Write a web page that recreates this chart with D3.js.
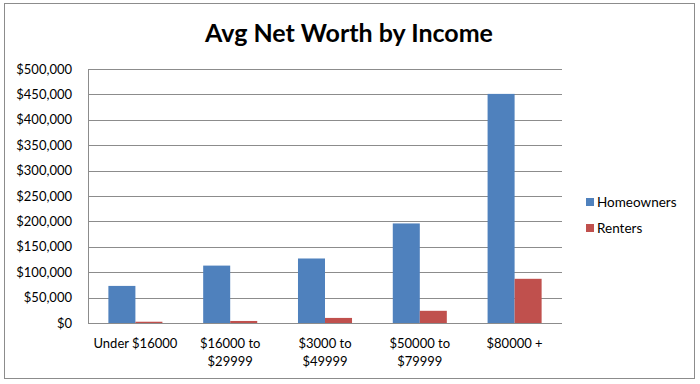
<!DOCTYPE html>
<html>
<head>
<meta charset="utf-8">
<script src="https://cdn.jsdelivr.net/npm/d3@7"></script>
<style>
  body { margin: 0; background: #fff; }
  text { font-family: Lato, "Open Sans", sans-serif; fill: #000; }
</style>
</head>
<body>
<div id="chart"></div>
<script>
// data
const categories = ["Under $16000", "$16000 to $29999", "$3000 to $49999", "$50000 to $79999", "$80000 +"];
const seriesNames = ["Homeowners", "Renters"];
const homeowners = [73000, 113000, 127000, 196000, 451000];
const renters = [2500, 4000, 10000, 24000, 87000];
const yTicks = [0, 50000, 100000, 150000, 200000, 250000, 300000, 350000, 400000, 450000, 500000];
const colors = ["#4F81BD", "#C0504D"];

const width = 700, height = 384;
const plot = { left: 88, right: 562, top: 69, bottom: 323 };

const svg = d3.select("#chart").append("svg")
  .attr("width", width)
  .attr("height", height);

// outer frame
svg.append("rect")
  .attr("x", 4.5).attr("y", 3.5)
  .attr("width", 690).attr("height", 375)
  .attr("fill", "#fff")
  .attr("stroke", "#8c8c8c");

svg.append("text")
  .attr("x", 349).attr("y", 42)
  .attr("text-anchor", "middle")
  .style("font-size", "25px")
  .style("font-weight", "bold")
  .text("Avg Net Worth by Income");

const y = d3.scaleLinear().domain([0, 500000]).range([plot.bottom, plot.top]);

const x0 = d3.scaleBand()
  .domain(categories)
  .range([plot.left, plot.right])
  .paddingInner(0.43)
  .paddingOuter(0.215);

const x1 = d3.scaleBand()
  .domain(seriesNames)
  .range([0, x0.bandwidth()]);

// gridlines
svg.append("g")
  .selectAll("line")
  .data(yTicks)
  .join("line")
  .attr("x1", plot.left).attr("x2", plot.right)
  .attr("y1", d => Math.round(y(d)) + 0.5)
  .attr("y2", d => Math.round(y(d)) + 0.5)
  .attr("stroke", "#8c8c8c");

// y axis labels
const fmt = d3.format("$,");
svg.append("g")
  .selectAll("text")
  .data(yTicks)
  .join("text")
  .attr("x", 72)
  .attr("y", d => y(d))
  .attr("dy", "0.35em")
  .attr("text-anchor", "end")
  .style("font-size", "13px")
  .text(d => fmt(d));

// vertical axis line
svg.append("line")
  .attr("x1", plot.left + 0.5).attr("x2", plot.left + 0.5)
  .attr("y1", plot.top).attr("y2", plot.bottom)
  .attr("stroke", "#8c8c8c");

// bars
const rows = categories.map((c, i) => ({ cat: c, values: [homeowners[i], renters[i]] }));

svg.append("g")
  .selectAll("g")
  .data(rows)
  .join("g")
  .attr("transform", d => `translate(${x0(d.cat)},0)`)
  .selectAll("rect")
  .data(d => d.values.map((v, j) => ({ name: seriesNames[j], value: v, j })))
  .join("rect")
  .attr("x", d => x1(d.name))
  .attr("y", d => y(d.value))
  .attr("width", x1.bandwidth())
  .attr("height", d => y(0) - y(d.value))
  .attr("fill", d => colors[d.j]);

// x labels (wrap after "to")
const xl = svg.append("g")
  .selectAll("text")
  .data(categories)
  .join("text")
  .attr("x", d => x0(d) + x0.bandwidth() / 2)
  .attr("y", 348)
  .attr("text-anchor", "middle")
  .style("font-size", "13px");

xl.each(function (d) {
  const parts = d.includes(" to ") ? [d.split(" to ")[0] + " to", d.split(" to ")[1]] : [d];
  d3.select(this).selectAll("tspan")
    .data(parts)
    .join("tspan")
    .attr("x", x0(d) + x0.bandwidth() / 2)
    .attr("dy", (p, i) => i === 0 ? 0 : "1.35em")
    .text(p => p);
});

// legend
const legend = svg.append("g")
  .selectAll("g")
  .data(seriesNames)
  .join("g")
  .attr("transform", (d, i) => `translate(586,${202 + i * 26})`);

legend.append("rect")
  .attr("x", 0).attr("y", -4)
  .attr("width", 8).attr("height", 8)
  .attr("fill", (d, i) => colors[i]);

legend.append("text")
  .attr("x", 11)
  .attr("dy", "0.35em")
  .style("font-size", "13.5px")
  .text(d => d);
</script>
</body>
</html>
